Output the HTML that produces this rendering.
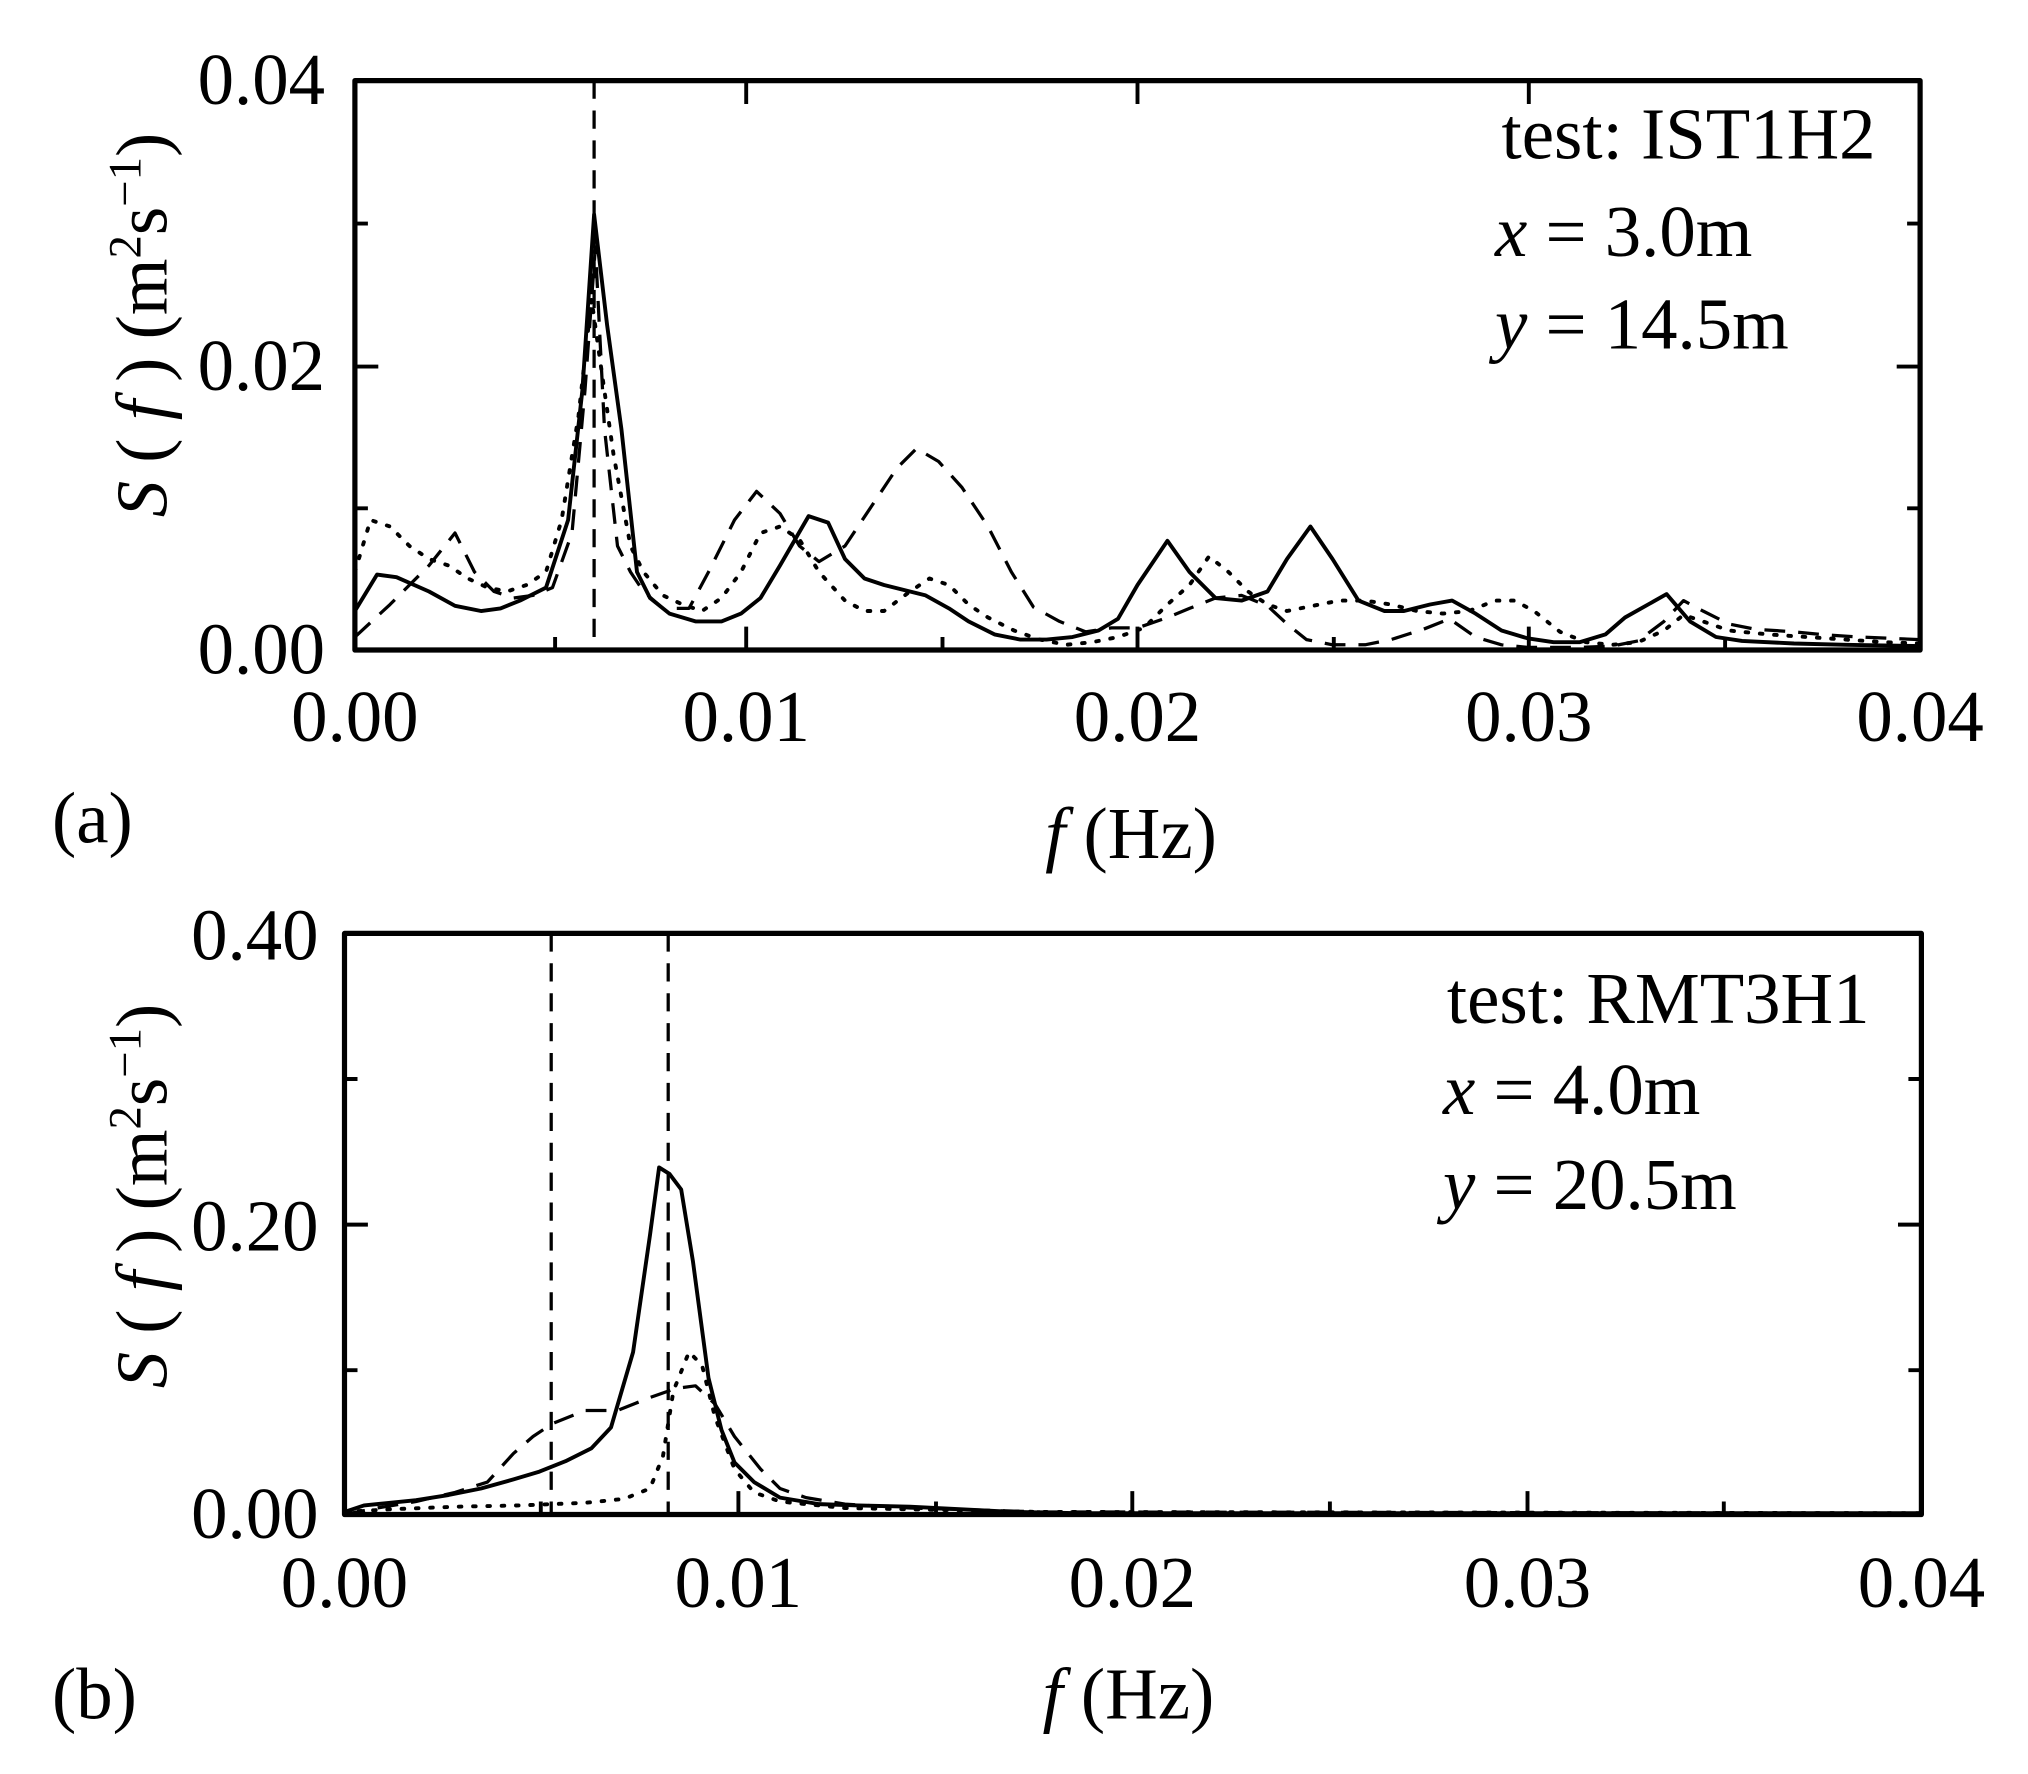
<!DOCTYPE html>
<html><head><style>html,body{margin:0;padding:0;background:#fff}svg{display:block}</style></head>
<body>
<svg width="2028" height="1774" viewBox="0 0 1560 1364.6" preserveAspectRatio="none" xmlns="http://www.w3.org/2000/svg" font-family="Liberation Serif, serif" fill="#000">
<g stroke="#000" fill="none" stroke-linejoin="round">
<!-- panel a -->
<rect x="273" y="62" width="1204" height="438" stroke-width="4"/>
<path d="M273 282h18M273 172h10M273 391h10M1477 282h-18M1477 172h-10M1477 391h-10" stroke-width="3"/>
<path d="M574 500v-18M875 500v-18M1176 500v-18M427 500v-10M725 500v-10M1026 500v-10M1327 500v-10M574 62v18M875 62v18M1176 62v18" stroke-width="3"/>
<line x1="457" y1="62" x2="457" y2="500" stroke-width="2.5" stroke-dasharray="14,9"/>
<polyline stroke-width="3" points="273,470 290,442 305,444 330,455 350,466 370,470 385,468 400,462 420,452 437,400 448,300 457,165 467,250 478,330 490,440 500,460 515,472 535,478 555,478 570,472 585,460 600,435 622,397 637,402 650,430 665,445 680,450 700,455 712,458 730,468 745,478 765,488 785,492 805,492 825,490 845,485 860,476 875,450 898,416 915,440 935,460 955,462 975,455 990,430 1008,405 1025,430 1045,462 1065,470 1080,470 1100,465 1117,462 1135,472 1155,485 1175,491 1195,494 1215,494 1235,488 1250,475 1282,457 1300,478 1320,490 1340,493 1380,495 1420,496 1477,497"/>
<polyline stroke-width="2.5" stroke-dasharray="16,10" points="273,490 300,465 330,435 350,410 365,440 380,455 395,460 410,458 425,452 440,410 450,300 458,190 465,330 475,420 485,440 495,455 510,468 530,468 545,440 565,400 582,378 600,395 615,420 630,432 650,420 670,390 690,360 705,345 722,355 740,375 760,405 778,440 795,467 815,478 835,486 855,483 875,483 898,475 915,468 935,460 955,458 975,466 990,480 1005,492 1025,496 1050,496 1070,492 1095,484 1115,476 1135,490 1155,496 1175,498 1215,498 1240,497 1260,493 1280,478 1295,462 1310,470 1330,480 1350,484 1380,486 1400,488 1430,490 1477,492"/>
<polyline stroke-width="3" stroke-dasharray="2,9" stroke-linecap="round" points="273,440 285,400 300,405 315,420 330,430 345,435 360,445 375,452 390,455 405,450 420,440 432,400 445,320 455,230 462,280 472,350 485,420 495,440 510,458 525,465 540,470 555,460 570,440 585,410 600,405 615,415 630,440 650,462 665,470 680,470 700,455 715,445 730,450 745,465 760,475 780,485 800,492 820,496 840,494 860,490 880,483 898,465 915,450 930,428 945,440 960,455 975,465 990,470 1010,466 1030,462 1050,462 1070,465 1090,470 1110,472 1130,470 1150,462 1165,462 1180,470 1200,486 1220,494 1240,496 1260,494 1280,485 1295,473 1310,478 1330,485 1360,488 1390,490 1420,492 1450,494 1477,495"/>
<!-- panel b -->
<rect x="265" y="718" width="1213" height="447" stroke-width="4"/>
<path d="M265 942h18M265 830h10M265 1054h10M1478 942h-18M1478 830h-10M1478 1054h-10" stroke-width="3"/>
<path d="M568 1165v-18M871 1165v-18M1175 1165v-18M1478 1165v-18M416 1165v-10M720 1165v-10M1023 1165v-10M1326 1165v-10" stroke-width="3"/>
<line x1="424" y1="718" x2="424" y2="1165" stroke-width="2.5" stroke-dasharray="14,9"/>
<line x1="514" y1="718" x2="514" y2="1165" stroke-width="2.5" stroke-dasharray="14,9"/>
<polyline stroke-width="3" points="265,1163 280,1158 300,1156 320,1154 345,1150 370,1145 395,1138 415,1132 435,1124 455,1114 470,1098 487,1040 500,950 507,898 515,903 524,915 533,970 545,1060 555,1100 565,1125 580,1140 600,1152 630,1157 660,1158 700,1159 740,1161 780,1163 830,1164 900,1164 1478,1164"/>
<polyline stroke-width="2.5" stroke-dasharray="16,10" points="265,1165 290,1160 320,1155 350,1148 375,1140 395,1118 410,1105 425,1095 450,1085 475,1085 500,1075 520,1068 535,1066 550,1080 565,1105 585,1130 600,1145 620,1152 650,1157 700,1160 800,1163 1478,1164"/>
<polyline stroke-width="3" stroke-dasharray="2,9" stroke-linecap="round" points="265,1163 300,1161 350,1159 400,1158 450,1156 480,1153 500,1145 510,1120 518,1070 530,1040 540,1050 550,1090 565,1130 580,1148 600,1155 650,1160 800,1163 1478,1164"/>
</g>
<g font-size="56">
<text x="250" y="80" text-anchor="end">0.04</text>
<text x="250" y="300" text-anchor="end">0.02</text>
<text x="250" y="518" text-anchor="end">0.00</text>
<g text-anchor="middle">
<text x="273" y="570">0.00</text><text x="574" y="570">0.01</text><text x="875" y="570">0.02</text><text x="1176" y="570">0.03</text><text x="1477" y="570">0.04</text>
</g>
<text x="40" y="648">(a)</text>
<text x="870" y="660" text-anchor="middle"><tspan font-style="italic">f</tspan> (Hz)</text>
<text x="1155" y="122">test: IST1H2</text>
<text x="1150" y="197"><tspan font-style="italic">x</tspan> = 3.0m</text>
<text x="1150" y="268"><tspan font-style="italic">y</tspan> = 14.5m</text>
<text transform="translate(128,250) rotate(-90)" text-anchor="middle"><tspan font-style="italic">S</tspan> ( <tspan font-style="italic">f</tspan> ) (m<tspan font-size="36" dy="-20">2</tspan><tspan dy="20">s</tspan><tspan font-size="36" dy="-20">−1</tspan><tspan dy="20">)</tspan></text>

<text x="245" y="738" text-anchor="end">0.40</text>
<text x="245" y="962" text-anchor="end">0.20</text>
<text x="245" y="1183" text-anchor="end">0.00</text>
<g text-anchor="middle">
<text x="265" y="1236">0.00</text><text x="568" y="1236">0.01</text><text x="871" y="1236">0.02</text><text x="1175" y="1236">0.03</text><text x="1478" y="1236">0.04</text>
</g>
<text x="40" y="1322">(b)</text>
<text x="868" y="1322" text-anchor="middle"><tspan font-style="italic">f</tspan> (Hz)</text>
<text x="1113" y="787">test: RMT3H1</text>
<text x="1110" y="857"><tspan font-style="italic">x</tspan> = 4.0m</text>
<text x="1110" y="930"><tspan font-style="italic">y</tspan> = 20.5m</text>
<text transform="translate(128,920) rotate(-90)" text-anchor="middle"><tspan font-style="italic">S</tspan> ( <tspan font-style="italic">f</tspan> ) (m<tspan font-size="36" dy="-20">2</tspan><tspan dy="20">s</tspan><tspan font-size="36" dy="-20">−1</tspan><tspan dy="20">)</tspan></text>
</g>
</svg>
</body></html>
